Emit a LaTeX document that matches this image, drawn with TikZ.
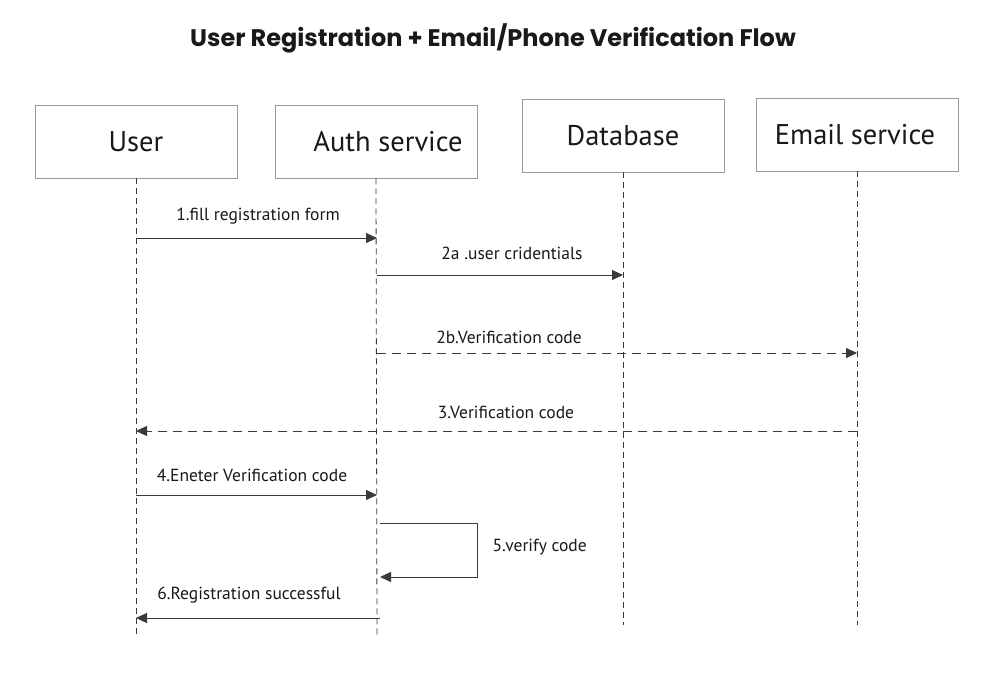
\documentclass[tikz,border=0pt]{standalone}
\usepackage{fontspec}
\setmainfont{PT Sans}
\newfontfamily\titlefont{Poppins}
\usetikzlibrary{arrows.meta}
\definecolor{linegray}{HTML}{3A3A3A}
\definecolor{boxgray}{HTML}{9A9A9A}
\tikzset{
  actor/.style={draw=boxgray, line width=0.9pt, minimum width=202pt, minimum height=73pt, inner sep=0pt, font=\fontsize{28.5}{32}\selectfont, text=black!90},
  lifeline/.style={draw=linegray, line width=0.8pt, dash pattern=on 6pt off 4pt},
  msg/.style={draw=linegray, line width=1pt, -{Triangle[length=11pt,width=10pt]}},
  reply/.style={msg, dash pattern=on 9pt off 6pt},
  msglabel/.style={font=\fontsize{17.5}{20}\selectfont, text=black!90}
}
\begin{document}
\begin{tikzpicture}[x=1pt,y=-1pt]
\useasboundingbox[fill=white] (0,0) rectangle (998,695);
%title
\node[font=\titlefont\bfseries\fontsize{24}{28}\selectfont, text=black!90] (title) at (493,38) {User Registration + Email/Phone Verification Flow};
%actors
\node[actor] (user) at (136,141.5) {};
\node[actor] (auth) at (376,141.5) {};
\node[actor] (db) at (623,135.5) {};
\node[actor] (email) at (857,134.5) {};
\node[actor, draw=none, minimum width=0pt] (usertxt) at (user) {User};
\node[actor, draw=none, minimum width=0pt] (authtxt) at (388,141.5) {Auth service};
\node[actor, draw=none, minimum width=0pt] (dbtxt) at (db) {Database};
\node[actor, draw=none, minimum width=0pt] (emailtxt) at (855,134.5) {Email service};
%lifelines
\coordinate (userend) at (136,637);
\coordinate (authend) at (377,637);
\coordinate (dbend) at (623,625);
\coordinate (emailend) at (857,625);
\draw[lifeline] (user.south) -- (userend);
\draw[lifeline] (auth.south) -- (authend);
\draw[lifeline] (db.south) -- (dbend);
\draw[lifeline] (email.south) -- (emailend);
%1 fill form
\draw[msg] (user.south |- 0,238) -- (authend |- 0,238);
\node[msglabel] (m1) at (258,216) {1.fill registration form};
%2a credentials
\draw[msg] (authend |- 0,275) -- (dbend |- 0,275);
\node[msglabel] (m2a) at (512,253) {2a .user cridentials};
%2b code to email service
\draw[reply] (authend |- 0,353) -- (emailend |- 0,353);
\node[msglabel] (m2b) at (509,337) {2b.Verification code};
%3 code to user
\draw[reply] (emailend |- 0,431) -- (userend |- 0,431);
\node[msglabel] (m3) at (506,412) {3.Verification code};
%4 enter code
\draw[msg] (userend |- 0,495) -- (authend |- 0,495);
\node[msglabel] (m4) at (252,475) {4.Eneter Verification code};
%5 verify (self call)
\coordinate (loopa) at (477,523);
\coordinate (loopb) at (477,577);
\draw[msg] ([xshift=3pt]authend |- loopa) -- (loopa) -- (loopb) -- ([xshift=3pt]authend |- loopb);
\node[msglabel, anchor=west] (m5) at (489,547) {5.verify code};
%6 success
\draw[msg] ([xshift=3pt]authend |- 0,618) -- (userend |- 0,618);
\node[msglabel] (m6) at (249,595) {6.Registration successful};
\end{tikzpicture}
\end{document}
